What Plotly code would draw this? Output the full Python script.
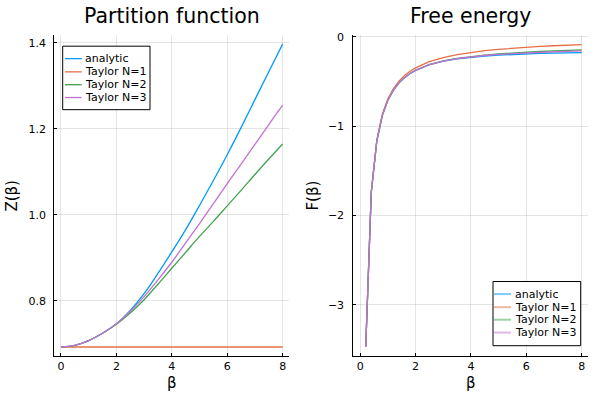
import plotly.graph_objects as go

# ---------------- data ----------------
beta_Z = [0, 0.5, 1, 1.5, 2, 2.5, 3, 3.5, 4, 4.5, 5, 5.5, 6, 6.5, 7, 7.5, 8]
Z_analytic = [0.693, 0.697, 0.708, 0.725, 0.747, 0.778, 0.817, 0.864, 0.914, 0.966,
              1.022, 1.080, 1.140, 1.203, 1.268, 1.333, 1.397]
Z_taylor1 = [0.693] * 17
Z_taylor2 = [0.693, 0.697, 0.708, 0.725, 0.746, 0.772, 0.803, 0.839, 0.876, 0.913,
             0.950, 0.985, 1.021, 1.057, 1.094, 1.130, 1.165]
Z_taylor3 = [0.693, 0.697, 0.708, 0.725, 0.747, 0.776, 0.810, 0.849, 0.890, 0.935,
             0.980, 1.026, 1.073, 1.118, 1.164, 1.210, 1.255]

beta_F = [0.2, 0.4, 0.6, 0.8, 1.0, 1.2, 1.4, 1.6, 1.8, 2.0, 2.5, 3, 3.5, 4, 4.5,
          5, 5.5, 6, 6.5, 7, 7.5, 8]
F_analytic = [-3.47, -1.74, -1.163, -0.879, -0.708, -0.595, -0.515, -0.456, -0.410,
              -0.374, -0.311, -0.272, -0.247, -0.229, -0.215, -0.204, -0.196,
              -0.190, -0.185, -0.181, -0.178, -0.175]
F_taylor1 = [-3.466, -1.733, -1.155, -0.866, -0.693, -0.578, -0.495, -0.433, -0.385,
             -0.347, -0.277, -0.231, -0.198, -0.173, -0.154, -0.139, -0.126,
             -0.116, -0.107, -0.099, -0.092, -0.087]
F_taylor2 = [-3.47, -1.74, -1.163, -0.879, -0.708, -0.595, -0.515, -0.456, -0.410,
             -0.373, -0.309, -0.268, -0.240, -0.219, -0.203, -0.190, -0.179,
             -0.170, -0.163, -0.156, -0.151, -0.146]
F_taylor3 = [-3.47, -1.74, -1.163, -0.879, -0.708, -0.595, -0.515, -0.456, -0.410,
             -0.374, -0.310, -0.270, -0.243, -0.223, -0.208, -0.196, -0.187,
             -0.179, -0.172, -0.166, -0.161, -0.157]

names = ["analytic", "Taylor N=1", "Taylor N=2", "Taylor N=3"]
colors = ["#009AFA", "#E36F47", "#3EA44E", "#C371D2"]

Z_series = [Z_analytic, Z_taylor1, Z_taylor2, Z_taylor3]
F_series = [F_analytic, F_taylor1, F_taylor2, F_taylor3]

FONT = "DejaVu Sans"

fig = go.Figure()
for name, col, ys in zip(names, colors, Z_series):
    fig.add_trace(go.Scatter(x=beta_Z, y=ys, mode="lines", name=name,
                             line=dict(color=col, width=1.3, shape="spline"),
                             xaxis="x", yaxis="y", showlegend=False))
for name, col, ys in zip(names, colors, F_series):
    fig.add_trace(go.Scatter(x=beta_F, y=ys, mode="lines", name=name,
                             line=dict(color=col, width=1.3),
                             xaxis="x2", yaxis="y2", showlegend=False))

W, H = 600, 400
def px(x):
    return x / W
def py(y):
    return 1 - y / H

axis_common = dict(showgrid=True, gridcolor="rgba(0,0,0,0.1)", gridwidth=0.5,
                   zeroline=False, showline=True, linecolor="#000000", linewidth=1,
                   ticks="inside", ticklen=3, tickcolor="#000000",
                   tickfont=dict(family=FONT, size=11, color="#000000"))

xticks = [0, 2, 4, 6, 8]
fig.update_layout(
    width=W, height=H, margin=dict(l=0, r=0, t=0, b=0),
    paper_bgcolor="white", plot_bgcolor="white",
    xaxis=dict(domain=[px(54.3), px(289.3)], range=[-0.24, 8.24],
               tickvals=xticks, ticktext=[str(t) for t in xticks],
               anchor="y", **axis_common),
    yaxis=dict(domain=[py(355.7), py(30.7)], range=[0.6715, 1.4175],
               tickvals=[0.8, 1.0, 1.2, 1.4], ticktext=["0.8", "1.0", "1.2", "1.4"],
               anchor="x", ticklabelstandoff=5, **axis_common),
    xaxis2=dict(domain=[px(353.3), px(588)], range=[-0.25, 8.23],
                tickvals=xticks, ticktext=[str(t) for t in xticks],
                anchor="y2", **axis_common),
    yaxis2=dict(domain=[py(355.7), py(30.7)], range=[-3.577, 0.018],
                tickvals=[0, -1, -2, -3], ticktext=["0", "\u22121", "\u22122", "\u22123"],
                anchor="x2", ticklabelstandoff=6, **axis_common),
    showlegend=False,
)

ann = []
shapes = []
# titles
ann.append(dict(text="Partition function", x=px(171.8), y=py(11), xref="paper", yref="paper",
                showarrow=False, font=dict(family=FONT, size=20.5, color="black"),
                xanchor="center", yanchor="middle"))
ann.append(dict(text="Free energy", x=px(470.6), y=py(11), xref="paper", yref="paper",
                showarrow=False, font=dict(family=FONT, size=20.5, color="black"),
                xanchor="center", yanchor="middle"))
# axis labels
ann.append(dict(text="β", x=px(171.8), y=py(383), xref="paper", yref="paper",
                showarrow=False, font=dict(family=FONT, size=15, color="black"),
                xanchor="center", yanchor="middle"))
ann.append(dict(text="β", x=px(470.6), y=py(383), xref="paper", yref="paper",
                showarrow=False, font=dict(family=FONT, size=15, color="black"),
                xanchor="center", yanchor="middle"))
ann.append(dict(text="Z(β)", x=px(12), y=py(193), xref="paper", yref="paper",
                showarrow=False, textangle=-90, font=dict(family=FONT, size=15, color="black"),
                xanchor="center", yanchor="middle"))
ann.append(dict(text="F(β)", x=px(313), y=py(193), xref="paper", yref="paper",
                showarrow=False, textangle=-90, font=dict(family=FONT, size=15, color="black"),
                xanchor="center", yanchor="middle"))

def legend(x0, y0, x1, y1, rows, lx0, lx1, tx, alpha, lw):
    shapes.append(dict(type="rect", xref="paper", yref="paper",
                       x0=px(x0), x1=px(x1), y0=py(y1), y1=py(y0),
                       line=dict(color="black", width=1), fillcolor="white", layer="above"))
    for name, col, ry in zip(names, colors, rows):
        shapes.append(dict(type="line", xref="paper", yref="paper",
                           x0=px(lx0), x1=px(lx1), y0=py(ry), y1=py(ry),
                           line=dict(color=col, width=lw), opacity=alpha, layer="above"))
        ann.append(dict(text=name, x=px(tx), y=py(ry), xref="paper", yref="paper",
                        showarrow=False, font=dict(family=FONT, size=11, color="black"),
                        xanchor="left", yanchor="middle"))

legend(62.7, 41.7, 150, 106, [54.3, 67.7, 80.7, 93.7], 65, 81.7, 82.5, 1.0, 1.3)
legend(493, 280, 580.7, 345, [292.7, 306, 318.7, 331.7], 494, 511, 512.5, 0.5, 2)

fig.update_layout(annotations=ann, shapes=shapes)
fig.write_html("out.html", config={"displayModeBar": False},
               post_script="document.body.style.margin='0';document.body.style.padding='0';")
